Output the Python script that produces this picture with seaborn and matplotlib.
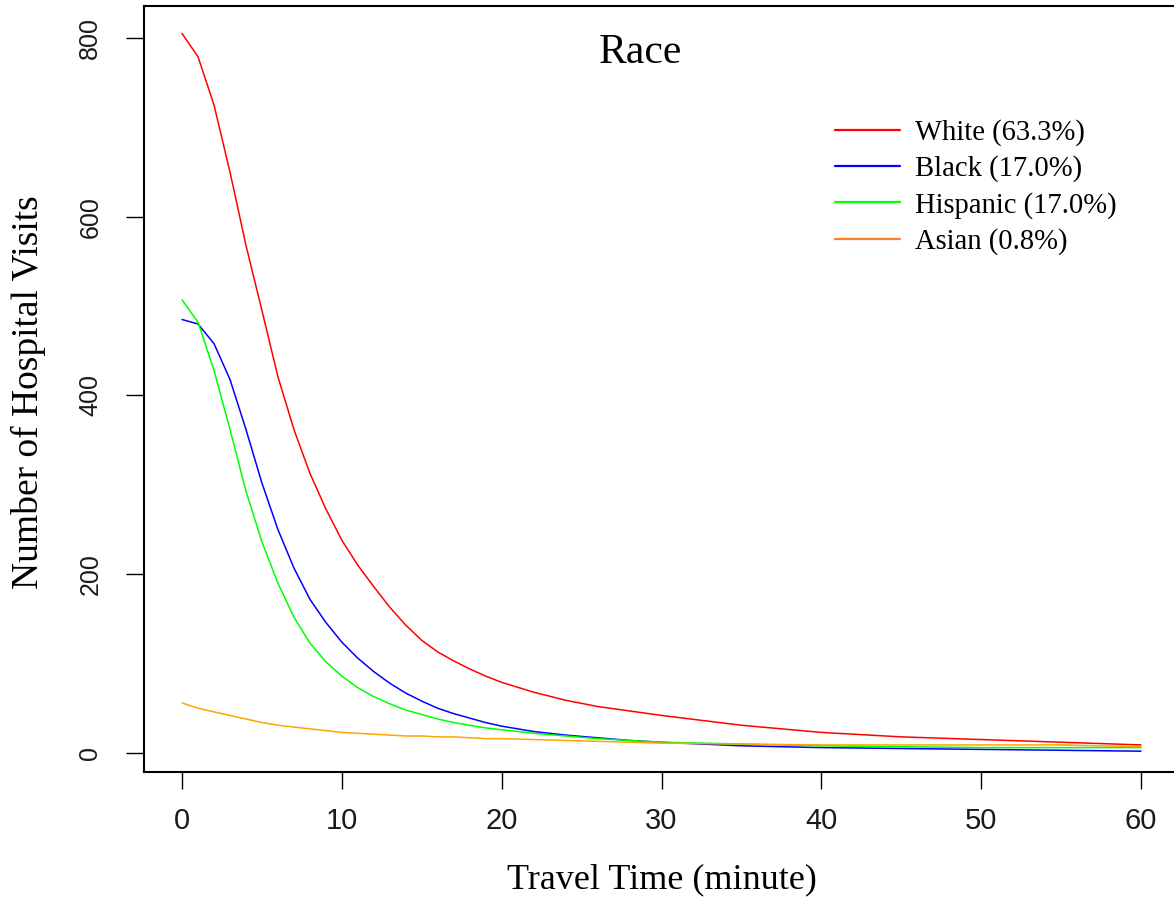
import pandas as pd
import matplotlib
matplotlib.use("Agg")
import matplotlib.pyplot as plt
import seaborn as sns

# travel time grid (minutes) and visits
minutes = list(range(0, 21)) + [22, 24, 26, 28, 30, 35, 40, 45, 50, 55, 60]

white = [805, 779, 725, 650, 568, 495, 421, 362, 313, 273, 238, 210, 186, 163, 143, 126,
         113, 103, 94, 86, 79, 68, 59, 52, 47, 42, 31, 23, 18, 15, 12, 9]
black = [485, 480, 458, 418, 362, 302, 250, 207, 172, 146, 124, 106, 91, 78, 67, 58,
         50, 44, 39, 34, 30, 24, 20, 17, 14, 12, 8, 6, 5, 4, 3, 2]
hispanic = [507, 482, 428, 362, 293, 236, 190, 152, 123, 102, 86, 73, 63, 55, 48, 43,
            38, 34, 31, 28, 26, 22, 19, 16, 14, 12, 10, 8, 7, 6, 6, 6]
asian = [56, 50, 46, 42, 38, 34, 31, 29, 27, 25, 23, 22, 21, 20, 19, 19,
         18, 18, 17, 16, 16, 15, 14, 13, 12, 11, 10, 9, 9, 9, 9, 7]

groups = ["White", "Black", "Hispanic", "Asian"]
shares = ["63.3%", "17.0%", "17.0%", "0.8%"]
colors = ["#FF0000", "#0000FF", "#00FF00", "#FFA500"]

x_ticks = [0, 10, 20, 30, 40, 50, 60]
y_ticks = [0, 200, 400, 600, 800]

labels = [f"{g} ({s})" for g, s in zip(groups, shares)]
frames = []
for lab, vals in zip(labels, [white, black, hispanic, asian]):
    frames.append(pd.DataFrame({"minute": minutes, "visits": vals, "group": lab}))
df = pd.concat(frames, ignore_index=True)

sns.set_style("white")
plt.rcParams["font.family"] = ["Liberation Serif", "DejaVu Serif"]
plt.rcParams["text.color"] = "black"
plt.rcParams["axes.labelcolor"] = "black"

W, H = 1174, 901
fig = plt.figure(figsize=(W / 100, H / 100), dpi=100)
ax = fig.add_axes([144 / W, 129 / H, 1035 / W, 766 / H])

sns.lineplot(data=df, x="minute", y="visits", hue="group", hue_order=labels,
             palette=dict(zip(labels, colors)), linewidth=1.1, ax=ax, legend=True)

ax.set_xlim(-2.38, 62.38)
ax.set_ylim(-21.3, 835.8)
ax.set_xticks(x_ticks)
ax.set_yticks(y_ticks)

for s in ax.spines.values():
    s.set_linewidth(1.5)
    s.set_color("black")

ax.tick_params(axis="x", bottom=True, direction="out", length=12, width=1.0, pad=13,
               labelsize=21, colors="black", labelcolor="#1a1a1a")
ax.tick_params(axis="y", left=True, direction="out", length=13, width=1.0, pad=17,
               labelsize=18, colors="black", labelcolor="#1a1a1a", labelrotation=90)
for lab in ax.get_xticklabels() + ax.get_yticklabels():
    lab.set_family(["Liberation Sans", "DejaVu Sans"])
for lab in ax.get_yticklabels():
    lab.set_va("center")

ax.set_xlabel("Travel Time (minute)", fontsize=26)
ax.set_ylabel("Number of Hospital Visits", fontsize=27)
ax.xaxis.label.set_va("center")
ax.yaxis.label.set_va("center")
ax.xaxis.set_label_coords((662 - 144) / 1035, (772 - 880) / 766)
ax.yaxis.set_label_coords((28 - 144) / 1035, (772 - 392) / 766)

ax.text((640 - 144) / 1035, (772 - 63) / 766, "Race", transform=ax.transAxes,
        ha="center", va="baseline", fontsize=30)

handles, labs = ax.get_legend_handles_labels()
leg = ax.legend(handles, labs, loc="upper left", frameon=False, fontsize=20.6,
                bbox_to_anchor=(835 / W, 1 - 119 / H), bbox_transform=fig.transFigure,
                borderpad=0, borderaxespad=0, handlelength=2.27, handletextpad=0.52,
                labelspacing=0.33)
leg.get_lines()[3].set_color("#FF7F27")
for ln in leg.get_lines():
    ln.set_linewidth(1.6)

fig.savefig("out.png", dpi=100)
